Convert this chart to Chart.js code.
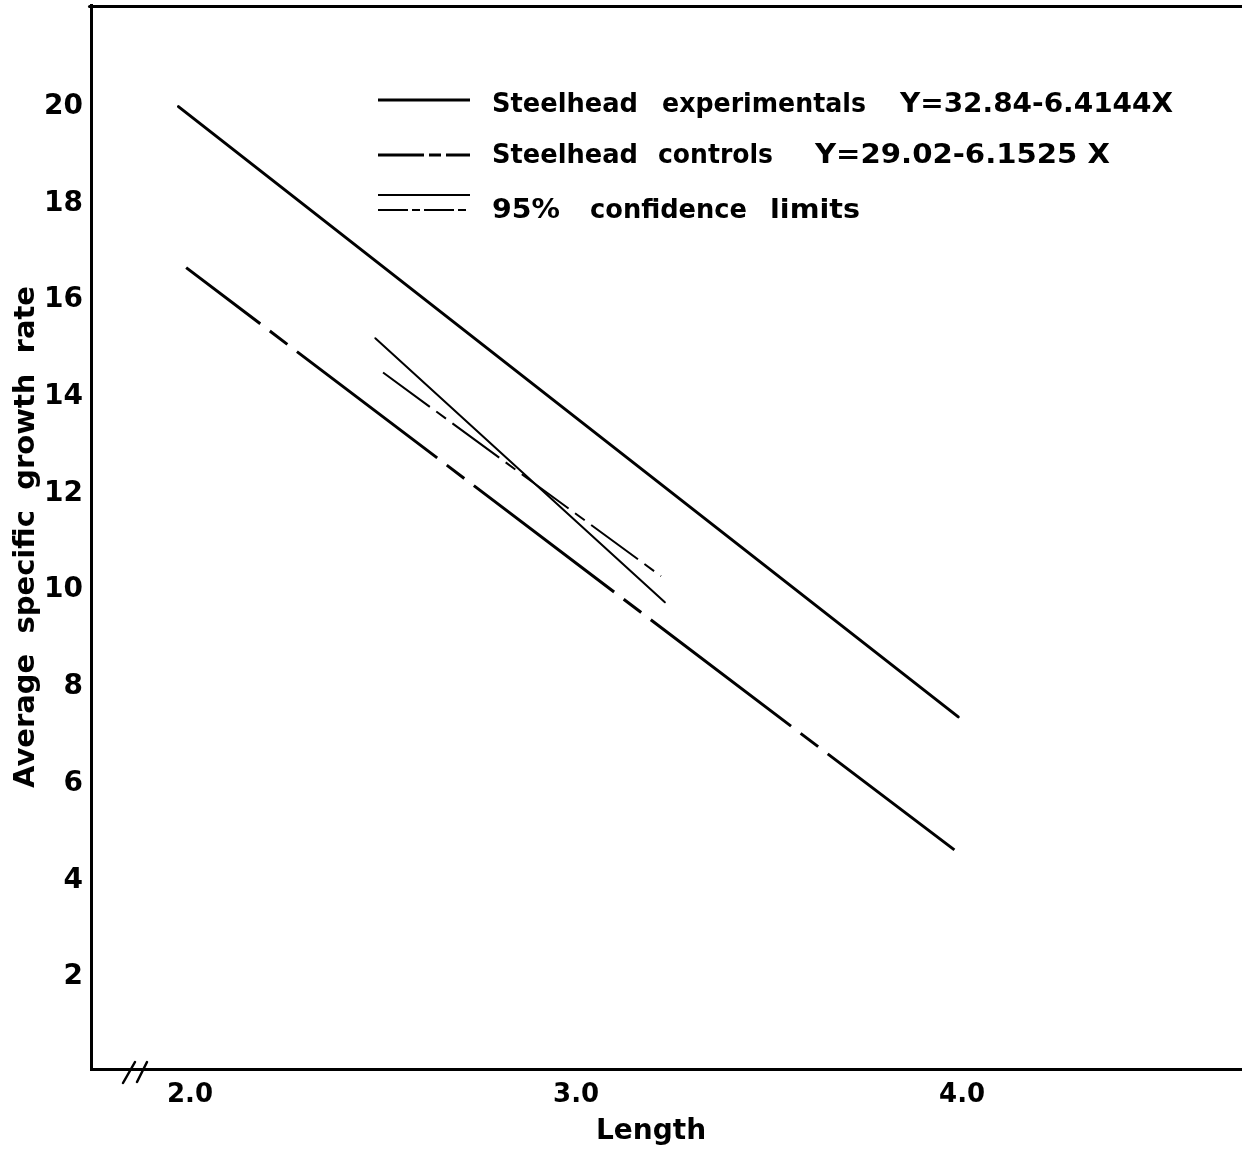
<!DOCTYPE html>
<html>
<head>
<meta charset="utf-8">
<title>Average specific growth rate vs Length</title>
<script src="https://cdn.jsdelivr.net/npm/chart.js@4.4.1/dist/chart.umd.min.js"></script>
<style>
	html, body { margin: 0; padding: 0; background: #fff; }
	#wrap { width: 1242px; height: 1149px; }
</style>
</head>
<body>
<div id="wrap"><canvas id="growthChart" width="1242" height="1149"></canvas></div>
<script>
// Regression lines (end points of each drawn line).
const expLength = [ 1.97, 3.99 ];
const expRate = [ 20.0, 7.38 ];
const ctrlLength = [ 1.99, 3.98 ];
const ctrlRate = [ 16.67, 4.63 ];
const upperLimitLength = [ 2.48, 3.23 ];
const upperLimitRate = [ 15.21, 9.75 ];
const lowerLimitLength = [ 2.5, 3.22 ];
const lowerLimitRate = [ 14.5, 10.29 ];

const xTicks = [ 2, 3, 4 ];
const yTicks = [ 2, 4, 6, 8, 10, 12, 14, 16, 18, 20 ];

const legendLabels = [
	'Steelhead experimentals',
	'Steelhead controls',
	'95% confidence limits',
];
const legendEquations = [ 'Y=32.84-6.4144X', 'Y=29.02-6.1525 X', '' ];

const FONT = '"DejaVu Sans", "Liberation Sans", sans-serif';

function toPoints( xs, ys ) {
	return xs.map( ( x, i ) => ( { x, y: ys[ i ] } ) );
}

// draw a word squeezed/stretched into [x0, x1]
function fitWord( ctx, text, x0, x1, y ) {
	const w = ctx.measureText( text ).width;
	ctx.save();
	ctx.translate( x0, y );
	ctx.scale( ( x1 - x0 ) / w, 1 );
	ctx.fillText( text, 0, 0 );
	ctx.restore();
}

// Frame top line, axis break, in-plot legend and x title
const paperPlugin = {
	id: 'paper',
	afterDraw( chart ) {
		const { ctx, chartArea } = chart;
		const L = chartArea.left;
		const B = chartArea.bottom;
		ctx.save();
		ctx.strokeStyle = '#000';
		ctx.fillStyle = '#000';
		ctx.lineCap = 'round';

		ctx.lineWidth = 3;
		ctx.beginPath();
		ctx.moveTo( L - 1.5, chartArea.top + 1.5 );
		ctx.lineTo( chartArea.right, chartArea.top + 1.5 );
		ctx.stroke();

		// axis break "//"
		ctx.lineWidth = 2.5;
		ctx.beginPath();
		ctx.moveTo( L + 32, B + 14 );
		ctx.lineTo( L + 44, B - 7 );
		ctx.moveTo( L + 46, B + 13 );
		ctx.lineTo( L + 56, B - 7 );
		ctx.stroke();

		// legend samples
		ctx.lineCap = 'butt';
		const sx0 = 378;
		const sx1 = 470;
		ctx.lineWidth = 3;
		ctx.beginPath();
		ctx.moveTo( sx0, 100 );
		ctx.lineTo( sx1, 100 );
		ctx.stroke();
		ctx.setLineDash( [ 46, 5, 12, 5 ] );
		ctx.beginPath();
		ctx.moveTo( sx0, 155 );
		ctx.lineTo( sx1, 155 );
		ctx.stroke();
		ctx.setLineDash( [] );
		ctx.lineWidth = 2;
		ctx.beginPath();
		ctx.moveTo( sx0, 195 );
		ctx.lineTo( sx1, 195 );
		ctx.stroke();
		ctx.setLineDash( [ 30, 4, 8, 4 ] );
		ctx.beginPath();
		ctx.moveTo( sx0, 210 );
		ctx.lineTo( sx1, 210 );
		ctx.stroke();
		ctx.setLineDash( [] );

		// legend text, word by word
		const spans = [
			[ [ 492, 638 ], [ 662, 866 ], [ 900, 1173 ] ],
			[ [ 492, 638 ], [ 658, 773 ], [ 815, 1110 ] ],
			[ [ 492, 560 ], [ 590, 747 ], [ 770, 860 ] ],
		];
		const baselines = [ 112, 163, 218 ];
		ctx.font = 'bold 27px ' + FONT;
		ctx.textBaseline = 'alphabetic';
		ctx.textAlign = 'left';
		legendLabels.forEach( ( label, i ) => {
			const words = label.split( ' ' );
			if ( legendEquations[ i ] ) {
				words.push( legendEquations[ i ] );
			}
			words.forEach( ( word, j ) => {
				fitWord( ctx, word, spans[ i ][ j ][ 0 ], spans[ i ][ j ][ 1 ], baselines[ i ] );
			} );
		} );

		// x axis title
		ctx.font = 'bold 28px ' + FONT;
		ctx.textAlign = 'center';
		ctx.fillText( 'Length', 651, 1139 );
		ctx.restore();
	},
};

const ctx = document.getElementById( 'growthChart' ).getContext( '2d' );

new Chart( ctx, {
	type: 'scatter',
	data: {
		datasets: [
			{
				label: legendLabels[ 0 ],
				data: toPoints( expLength, expRate ),
				showLine: true,
				borderColor: '#000',
				borderWidth: 3,
				borderCapStyle: 'round',
				pointRadius: 0,
			},
			{
				label: legendLabels[ 1 ],
				data: toPoints( ctrlLength, ctrlRate ),
				showLine: true,
				borderColor: '#000',
				borderWidth: 3,
				borderCapStyle: 'butt',
				borderDash: [ 176, 12, 22, 12 ],
				borderDashOffset: 83,
				pointRadius: 0,
			},
			{
				label: 'Upper confidence limit',
				data: toPoints( upperLimitLength, upperLimitRate ),
				showLine: true,
				borderColor: '#000',
				borderWidth: 2,
				borderCapStyle: 'round',
				pointRadius: 0,
			},
			{
				label: 'Lower confidence limit',
				data: toPoints( lowerLimitLength, lowerLimitRate ),
				showLine: true,
				borderColor: '#000',
				borderWidth: 2,
				borderCapStyle: 'butt',
				borderDash: [ 58, 8, 12, 8 ],
				pointRadius: 0,
			},
		],
	},
	options: {
		responsive: false,
		animation: false,
		devicePixelRatio: 1,
		layout: {
			padding: { top: 5, right: 0, bottom: 0, left: 0 },
		},
		plugins: {
			legend: { display: false },
			tooltip: { enabled: false },
		},
		scales: {
			x: {
				type: 'linear',
				min: 1.7435,
				max: 4.725,
				afterBuildTicks: ( scale ) => {
					scale.ticks = xTicks.map( ( v ) => ( { value: v } ) );
				},
				afterFit: ( scale ) => {
					scale.height = 80;
					scale.paddingLeft = 0;
					scale.paddingRight = 0;
				},
				grid: { display: false, drawTicks: false },
				border: { display: true, color: '#000', width: 3 },
				ticks: {
					padding: 11,
					color: '#000',
					font: { family: FONT, size: 26, weight: 'bold' },
					callback: ( v ) => Number( v ).toFixed( 1 ),
				},
			},
			y: {
				type: 'linear',
				min: 0.1,
				max: 22.1,
				afterBuildTicks: ( scale ) => {
					scale.ticks = yTicks.map( ( v ) => ( { value: v } ) );
				},
				afterFit: ( scale ) => {
					scale.width = 91;
					scale.paddingTop = 0;
					scale.paddingBottom = 0;
				},
				grid: { display: false, drawTicks: false },
				border: { display: true, color: '#000', width: 3 },
				ticks: {
					padding: 8,
					color: '#000',
					font: { family: FONT, size: 28, weight: 'bold' },
					callback: ( v ) => String( v ),
				},
				title: {
					display: true,
					text: 'Average  specific  growth  rate',
					color: '#000',
					padding: { top: 9, bottom: 0 },
					font: { family: FONT, size: 29, weight: 'bold' },
				},
			},
		},
	},
	plugins: [ paperPlugin ],
} );
</script>
</body>
</html>
